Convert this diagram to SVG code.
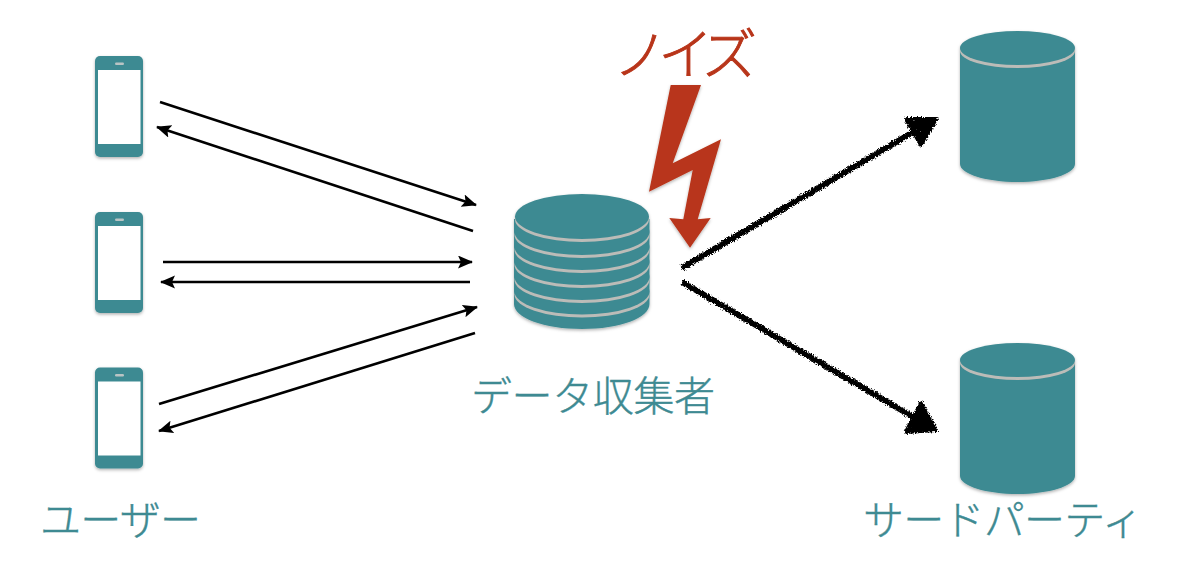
<svg xmlns="http://www.w3.org/2000/svg" xmlns:xlink="http://www.w3.org/1999/xlink" width="1200" height="562" viewBox="0 0 1200 562">
<style>
.label{font-family:"Noto Sans CJK JP","Noto Sans",sans-serif;font-size:41px;font-weight:300;fill:#3e8a92;stroke:#3e8a92;stroke-width:0.400}
.noise{font-family:"Noto Sans CJK JP","Noto Sans",sans-serif;font-size:55px;font-weight:300;fill:#b8351a;stroke:#b8351a;stroke-width:0.900}
.teal{fill:#3e8a92}
.gray{fill:#bcbcb8}
.thin{fill:none;stroke:#000;stroke-width:2.600;marker-end:url(#ah)}
.rough{fill:none;stroke:#000;stroke-width:6}
.roughhead{fill:#000;stroke:#000;stroke-width:4;stroke-linejoin:round}
</style>
<defs>
<marker id="ah" markerUnits="userSpaceOnUse" markerWidth="17" markerHeight="14" refX="14" refY="6.500" orient="auto"><path d="M0 0L15 6.500L0 13L3 6.500Z" fill="#000"/></marker>
<filter id="sh" x="-10%" y="-10%" width="120%" height="120%"><feDropShadow dx="0" dy="1.500" stdDeviation="1.500" flood-color="#000" flood-opacity="0.3"/></filter>
<filter id="rough" x="-10%" y="-10%" width="120%" height="120%" color-interpolation-filters="sRGB">
<feTurbulence type="fractalNoise" baseFrequency="0.7" numOctaves="2" seed="4" result="n"/>
<feDisplacementMap in="SourceGraphic" in2="n" scale="5" xChannelSelector="R" yChannelSelector="G" result="d"/>
<feTurbulence type="fractalNoise" baseFrequency="0.45" numOctaves="1" seed="9"/>
<feColorMatrix type="matrix" values="0 0 0 0 0 0 0 0 0 0 0 0 0 0 0 -12 0 0 0 10" result="holes"/>
<feComposite in="d" in2="holes" operator="in"/>
</filter>
<g id="phone"><rect x="95" y="56" width="48" height="101" rx="5" class="teal"/><rect x="98" y="70" width="42.500" height="74" fill="#fff"/><rect x="115" y="62.500" width="9" height="2.500" rx="1.200" fill="#b9c4c4"/></g>
<g id="cyl"><path d="M960 51V164C960 174 986 182 1017.500 182S1075 174 1075 164V51Z" class="teal"/><ellipse cx="1017.500" cy="51" rx="57.500" ry="17" class="gray"/><ellipse cx="1017.500" cy="48" rx="57.500" ry="17" class="teal"/></g>
</defs>

<g id="user1" filter="url(#sh)"><use xlink:href="#phone" href="#phone"/></g>
<g id="user2" filter="url(#sh)"><use xlink:href="#phone" href="#phone" y="156"/></g>
<g id="user3" filter="url(#sh)"><use xlink:href="#phone" href="#phone" y="311.500"/></g>

<g id="collector" filter="url(#sh)">
<path d="M514 219V304C514 318 544 329 582 329S649.500 318 649.500 304V219Z" class="teal"/>
<ellipse cx="582" cy="294.500" rx="67.500" ry="23" class="gray"/><ellipse cx="582" cy="291.500" rx="67.500" ry="23" class="teal"/>
<ellipse cx="582" cy="280" rx="67.500" ry="23" class="gray"/><ellipse cx="582" cy="277" rx="67.500" ry="23" class="teal"/>
<ellipse cx="582" cy="265" rx="67.500" ry="23" class="gray"/><ellipse cx="582" cy="262" rx="67.500" ry="23" class="teal"/>
<ellipse cx="582" cy="250" rx="67.500" ry="23" class="gray"/><ellipse cx="582" cy="247" rx="67.500" ry="23" class="teal"/>
<ellipse cx="582" cy="235" rx="67.500" ry="23" class="gray"/><ellipse cx="582" cy="232" rx="67.500" ry="23" class="teal"/>
<ellipse cx="582" cy="219.500" rx="67" ry="22.500" class="gray"/><ellipse cx="582" cy="216.500" rx="67" ry="22.500" class="teal"/>
</g>

<g id="third1" filter="url(#sh)"><use xlink:href="#cyl" href="#cyl"/></g>
<g id="third2" filter="url(#sh)"><use xlink:href="#cyl" href="#cyl" y="312"/></g>

<g id="bolt" filter="url(#sh)"><polygon points="670.700,85 701,85 672.700,163.300 721,139.300 697.700,219.300 710.700,218 690,247.700 669.300,218 683.300,219.300 692.700,170 649,191.700" fill="#b8351a"/></g>

<g id="connectors">
<line class="thin" x1="160" y1="102" x2="476" y2="205"/>
<line class="thin" x1="473" y1="231" x2="157" y2="127"/>
<line class="thin" x1="163" y1="262" x2="472" y2="262"/>
<line class="thin" x1="470" y1="282" x2="161" y2="282"/>
<line class="thin" x1="159" y1="404" x2="477" y2="307"/>
<line class="thin" x1="475" y1="333" x2="159" y2="431"/>
<g filter="url(#rough)">
<line class="rough" x1="682" y1="268" x2="915" y2="131"/>
<polygon class="roughhead" points="906,119 936,119 921,145"/>
<line class="rough" x1="682" y1="282" x2="915" y2="418"/>
<polygon class="roughhead" points="921,403 936,430 906,432"/>
</g>
</g>

<text class="noise" x="613" y="74" textLength="144">ノイズ</text>
<text class="label" x="471" y="411" textLength="244">データ収集者</text>
<text class="label" x="40" y="535" textLength="161">ユーザー</text>
<text class="label" x="863" y="535" textLength="280">サードパーティ</text>
</svg>
